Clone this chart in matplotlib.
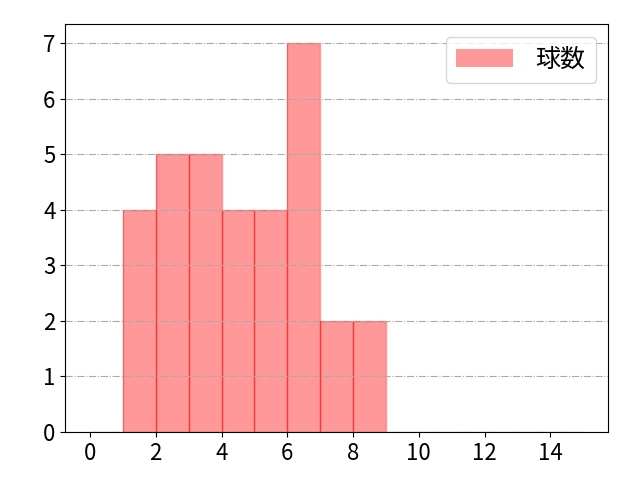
import matplotlib
matplotlib.use("Agg")
import matplotlib.pyplot as plt
import numpy as np

plt.rcParams['font.family'] = ['Noto Sans CJK JP', 'DejaVu Sans']

# bin edges 0..15, counts per bin
bin_edges = list(range(0, 16))
counts = [0, 4, 5, 5, 4, 4, 7, 2, 2, 0, 0, 0, 0, 0, 0]
label = '球数'
x_ticks = list(range(0, 16, 2))

fig, ax = plt.subplots(figsize=(6.4, 4.8), dpi=100)
fig.subplots_adjust(left=0.102, right=0.95, top=0.95, bottom=0.1)
ax.hist(bin_edges[:-1], bins=bin_edges, weights=counts,
        color='red', alpha=0.4, linewidth=1, label=label)
# edges drawn a little stronger inside
ax.hist(bin_edges[:-1], bins=bin_edges, weights=counts,
        fill=False, edgecolor='red', alpha=0.4, linewidth=1)
ax.set_xticks(x_ticks)
ax.grid(True, axis='y', linestyle='-.', color='#aaaaaa')
ax.tick_params(labelsize=16)
ax.legend(fontsize=18, loc='upper right', handlelength=2.3, handletextpad=0.9)
plt.savefig('out.png')
